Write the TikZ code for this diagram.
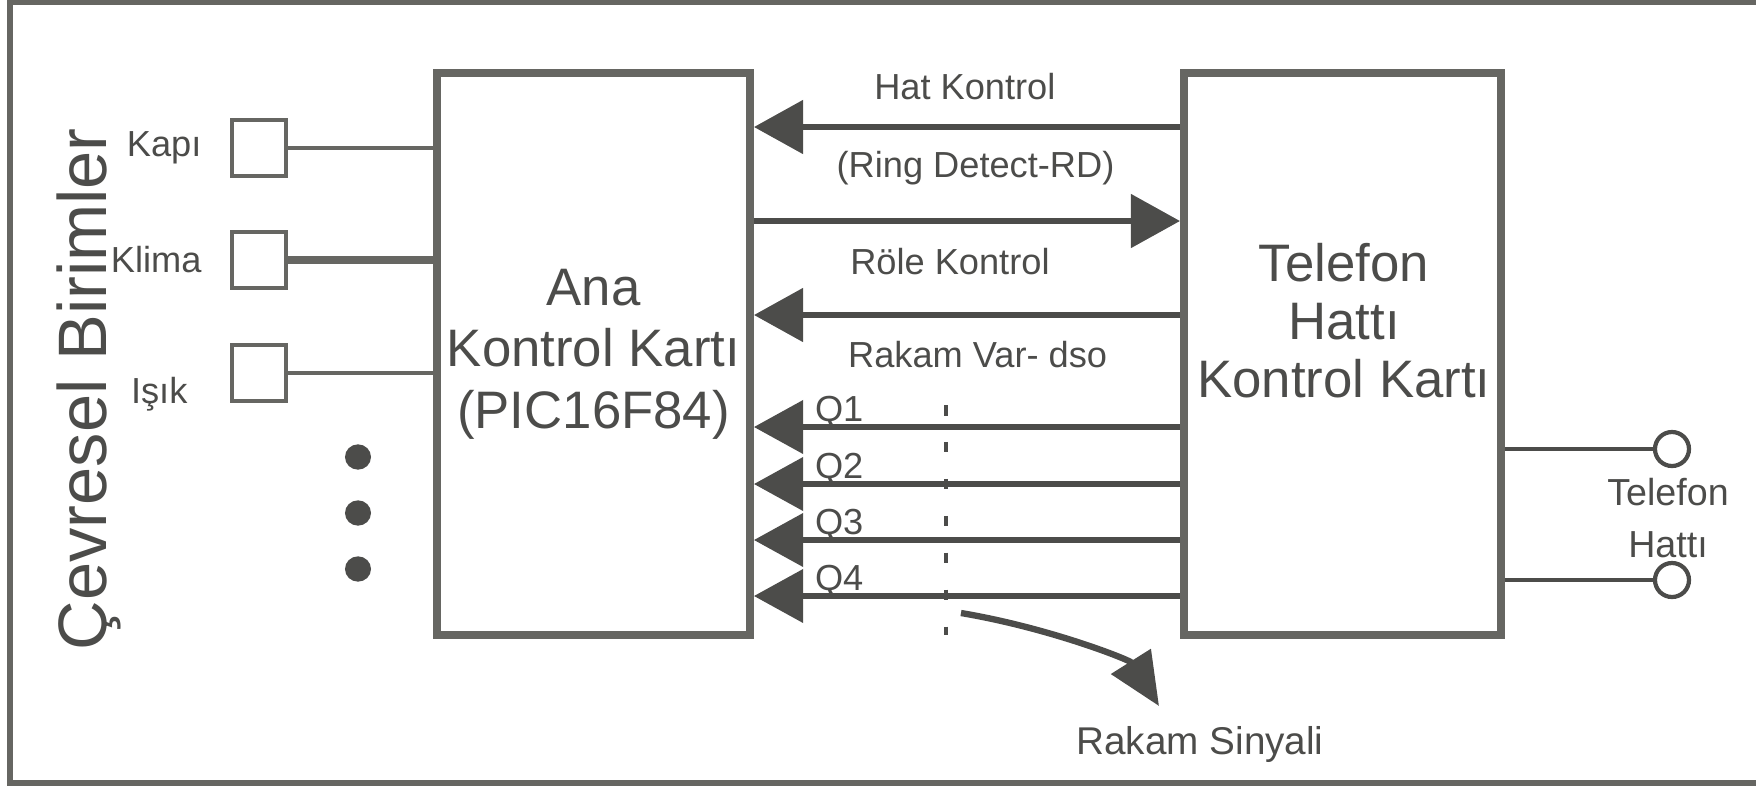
\documentclass[tikz,border=0pt]{standalone}
\usepackage{fontspec}
\setmainfont{Liberation Sans}
\usetikzlibrary{arrows.meta,positioning}
\definecolor{ScanGray}{RGB}{102,102,98}
\definecolor{InkGray}{RGB}{76,76,74}

\begin{document}
\begin{tikzpicture}[x=0.01cm, y=-0.01cm,
    every node/.style={font=\fontsize{10.3}{12.4}\selectfont, text=InkGray},
    card/.style={draw=ScanGray, line width=2.2pt, minimum height=5.62cm, inner sep=0pt},
    cardtext/.style={align=center, font=\fontsize{15}{17.5}\selectfont},
    unit/.style={draw=ScanGray, line width=1.3pt, minimum width=0.54cm, minimum height=0.56cm, inner sep=0pt},
    wire/.style={draw=ScanGray, line width=1.1pt},
    sig/.style={draw=InkGray, line width=1.8pt, -{Triangle[length=14pt, width=15pt]}},
    jack/.style={circle, draw=InkGray, line width=1.2pt, minimum size=0.34cm, inner sep=0pt}]
    \useasboundingbox (0,0) rectangle (1756,796);
    \draw[ScanGray, line width=1.6pt] (1756,2) -- (10,2) -- (10,783) -- (1756,783);

    % kartlar
    \node[card, cardtext, minimum width=3.13cm] (ana) at (593.5,354) {Ana\\Kontrol Kartı\\(PIC16F84)};
    \node[card, minimum width=3.17cm] (tel) at (1342.5,354) {};
    \node[cardtext, font=\fontsize{15}{16.5}\selectfont] (teltext) at (1344,321) {Telefon\\Hattı\\Kontrol Kartı};

    % cevresel birimler
    \node[rotate=90, font=\fontsize{19.5}{22}\selectfont] (cevre) at (89,389) {Çevresel Birimler};
    \node[unit] (kapi) at (259,148) {};
    \node[unit] (klima) at (259,260) {};
    \node[unit] (isik) at (259,373) {};
    \node[left=4.5pt of kapi] (kapilab) {Kapı};
    \node[left=4.5pt of klima] (klimalab) {Klima};
    \node[left=8.5pt of isik, yshift=-6pt] (isiklab) {Işık};
    \draw[wire] (kapi) -- (kapi -| ana.west);
    \draw[wire, line width=2pt] (klima) -- (klima -| ana.west);
    \draw[wire] (isik) -- (isik -| ana.west);
    \foreach \y in {457,513,569}
        \fill[InkGray] (358,\y) ellipse [x radius=3.7pt, y radius=3.6pt];

    % sinyaller
    \draw[sig] (tel.west |- 0,127) -- node[above=3.5pt, pos=0.505] {Hat Kontrol} node[below=2.8pt, pos=0.48] {(Ring Detect-RD)} (ana.east |- 0,127);
    \draw[sig] (ana.east |- 0,221) -- node[below=3.4pt, pos=0.46] {Röle Kontrol} (tel.west |- 0,221);
    \draw[sig] (tel.west |- 0,315) -- node[below=3.1pt, pos=0.475] {Rakam Var- dso} (ana.east |- 0,315);
    \foreach \y [count=\n] in {427,484,540,596}
        \draw[sig, line width=1.5pt] (tel.west |- 0,\y) -- node[pos=0.8, anchor=base, yshift=1.5pt] (q\n) {Q\n} (ana.east |- 0,\y);
    \draw[InkGray, line width=0.9pt, dash pattern=on 3pt off 7.5pt] (946,405) -- (946,635);

    % rakam sinyali
    \coordinate (rs0) at (961,613);
    \coordinate (rs1) at (1159,706);
    \draw[sig, -{Triangle[length=15pt, width=13pt]}] (rs0) .. controls (1050,628) and (1130,660) .. (rs1);
    \node[font=\fontsize{11}{13}\selectfont] (rsig) at (1200,744) {Rakam Sinyali};

    % telefon hatti
    \node[jack] (th1) at (1672,449) {};
    \node[jack] (th2) at (1672,580) {};
    \draw[wire, draw=InkGray] (tel.east |- th1) -- (th1);
    \draw[wire, draw=InkGray] (tel.east |- th2) -- (th2);
    \node[align=center, font=\fontsize{10.7}{15}\selectfont] (thlab) at (1668,518) {Telefon\\Hattı};
\end{tikzpicture}
\end{document}
